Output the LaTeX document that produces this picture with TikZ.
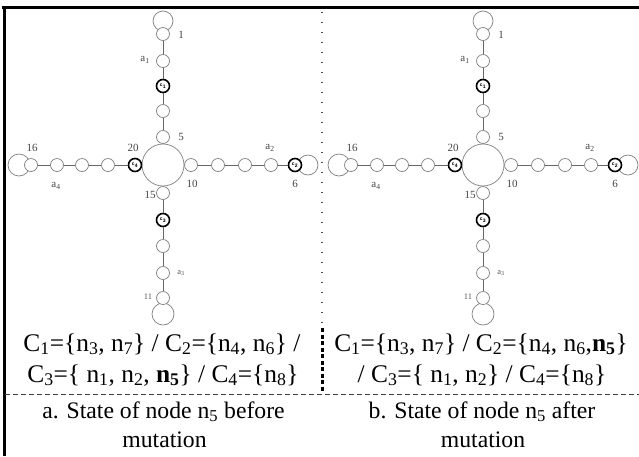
\documentclass[tikz,border=0pt]{standalone}
\usepackage{fontspec}
\setmainfont{Liberation Serif}
\setsansfont{Liberation Sans}
\newcommand\sbs[1]{\textsubscript{#1}}
\tikzset{
 gline/.style={draw=black!60, line width=0.8pt},
 vtx/.style={circle, draw=black!50, fill=white, line width=0.7pt, minimum size=13pt, inner sep=0pt},
 cvtx/.style={circle, draw=black, fill=white, line width=1.6pt, minimum size=13pt, inner sep=0pt, font=\sffamily\bfseries\fontsize{5}{5}\selectfont},
 loopc/.style={circle, draw=black!50, line width=0.7pt, minimum size=#1, inner sep=0pt},
 hub/.style={circle, draw=black!50, fill=white, line width=0.7pt, minimum size=42pt, inner sep=0pt},
 glab/.style={text=black!72, font=\fontsize{11}{13}\selectfont, inner sep=0pt},
 slab/.style={text=black!65, font=\fontsize{8.5}{10}\selectfont, inner sep=0pt},
 settext/.style={font=\fontsize{25.4}{28}\selectfont, inner sep=0pt, anchor=base},
 captext/.style={font=\fontsize{23.7}{26}\selectfont, inner sep=0pt, anchor=base},
}
\newcommand\drawstar{%
 \node[loopc=20pt] (tl) at (163,21) {};
 \node[loopc=22pt] (bl) at (163,314) {};
 \node[loopc=22pt] (ll) at (19,165) {};
 \node[loopc=20pt] (rl) at (308,165) {};
 \node[hub] (h) at (163,165) {};
 \node[vtx] (v1) at (163,34) {};
 \node[vtx] (va1) at (163,61) {};
 \node[cvtx] (c1) at (163,86) {c\sbs{1}};
 \node[vtx] (v4) at (163,111) {};
 \node[vtx] (v5) at (163,137) {};
 \node[vtx] (v15) at (163,193) {};
 \node[cvtx] (c3) at (163,220) {c\sbs{3}};
 \node[vtx] (v3b) at (163,246) {};
 \node[vtx] (va3) at (163,273) {};
 \node[vtx] (v11) at (163,298) {};
 \node[vtx] (v10) at (191,165) {};
 \node[vtx] (r2) at (218,165) {};
 \node[vtx] (r3) at (245,165) {};
 \node[vtx] (r4) at (271,165) {};
 \node[cvtx] (c2) at (295,165) {c\sbs{2}};
 \node[cvtx] (c4) at (135,165) {c\sbs{4}};
 \node[vtx] (l2) at (108,165) {};
 \node[vtx] (l3) at (82,165) {};
 \node[vtx] (l4) at (57,165) {};
 \node[vtx] (v16) at (31,165) {};
 \draw[gline] (v1)--(va1)--(c1)--(v4)--(v5);
 \draw[gline] (v15)--(c3)--(v3b)--(va3)--(v11);
 \draw[gline] (v10)--(r2)--(r3)--(r4)--(c2);
 \draw[gline] (c4)--(l2)--(l3)--(l4)--(v16);
 \node[glab] (t1) at (181,35) {1};
 \node[glab] (ta1) at (145,60) {a\sbs{1}};
 \node[glab] (t5) at (181,137) {5};
 \node[glab] (t20) at (133,148) {20};
 \node[glab] (ta2) at (270,148) {a\sbs{2}};
 \node[glab] (t16) at (32,148) {16};
 \node[glab] (ta4) at (56,186) {a\sbs{4}};
 \node[glab] (t10) at (192,184) {10};
 \node[glab] (t6) at (295,184) {6};
 \node[glab] (t15) at (150,195) {15};
 \node[slab] (ta3) at (181,273) {a\sbs{3}};
 \node[slab] (t11) at (148,297) {11};
}
\begin{document}
\begin{tikzpicture}[x=1pt,y=-1pt]
\useasboundingbox (0,0) rectangle (639,456);
\fill[white] (0,0) rectangle (639,456);
% frame
\draw[line width=2.5pt] (2,7.5) -- (639,7.5);
\draw[line width=3pt] (4,6.5) -- (4,456);
% separators
\draw[black!70, line width=1.2pt, dash pattern=on 1.2pt off 8.8pt] (322,12) -- (322,325);
\draw[line width=3pt, dash pattern=on 4pt off 2.5pt] (322,328) -- (322,392);
\draw[black!75, line width=0.8pt, dash pattern=on 5pt off 3pt] (5,394) -- (639,394);
% graphs
\begin{scope}[name prefix=L-]
\drawstar
\end{scope}
\begin{scope}[shift={(320,0)}, name prefix=R-]
\drawstar
\end{scope}
% texts
\node[settext] (la) at (162,351) {C\sbs{1}=\{n\sbs{3}, n\sbs{7}\} / C\sbs{2}=\{n\sbs{4}, n\sbs{6}\} /};
\node[settext] (lb) at (163,382) {C\sbs{3}=\{ n\sbs{1}, n\sbs{2}, \textbf{n\sbs{5}}\} / C\sbs{4}=\{n\sbs{8}\}};
\node[settext] (ra) at (481,351) {C\sbs{1}=\{n\sbs{3}, n\sbs{7}\} / C\sbs{2}=\{n\sbs{4}, n\sbs{6},\textbf{n\sbs{5}}\}};
\node[settext] (rb) at (482,382) {/ C\sbs{3}=\{ n\sbs{1}, n\sbs{2}\} / C\sbs{4}=\{n\sbs{8}\}};
\node[captext] (ca1) at (163.5,418) {a. State of node n\sbs{5} before};
\node[captext] (ca2) at (164.5,447) {mutation};
\node[captext] (cb1) at (482,418) {b. State of node n\sbs{5} after};
\node[captext] (cb2) at (483,447) {mutation};
\end{tikzpicture}
\end{document}
